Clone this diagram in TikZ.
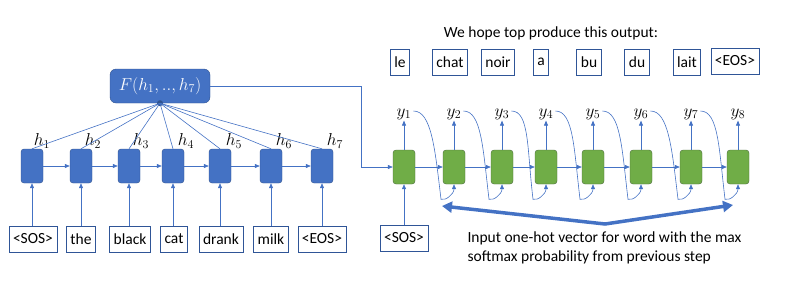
\documentclass[tikz,border=0pt]{standalone}
\usepackage{fontspec}
\setmainfont{Carlito}
\usetikzlibrary{arrows.meta,positioning,calc}

\definecolor{cellblue}{HTML}{4472C4}
\definecolor{celledge}{HTML}{2F528F}
\definecolor{cellgreen}{HTML}{70AD47}
\definecolor{greenedge}{HTML}{4A6B3A}
\definecolor{boxblue}{HTML}{2F5597}

\begin{document}
\begin{tikzpicture}[x=1pt,y=-1pt,font=\fontsize{15.5}{17}\selectfont,
    enc/.style={draw=celledge,fill=cellblue,rounded corners=3pt,minimum width=22pt,minimum height=34pt,inner sep=0pt},
    dec/.style={enc,draw=greenedge,fill=cellgreen},
    word/.style={draw=boxblue,line width=0.8pt,minimum height=26pt,inner xsep=4pt,inner ysep=0pt},
    label/.style={font=\fontsize{17}{19}\selectfont,inner sep=1pt},
    link/.style={draw=cellblue,line width=0.6pt},
    tip/.style={-{Triangle[length=5pt,width=4pt]}}]
  \useasboundingbox (0,0) rectangle (792,293);

  % encoder
  \node[enc] (e1) at (32,166) {};
  \node[enc] (e2) at (81,166) {};
  \node[enc] (e3) at (129,166) {};
  \node[enc] (e4) at (173,166) {};
  \node[enc] (e5) at (220,166) {};
  \node[enc] (e6) at (271,166) {};
  \node[enc] (e7) at (322,166) {};

  \node[word] (w1) at (33,239) {<SOS>};
  \node[word] (w2) at (81,239) {the};
  \node[word] (w3) at (130,239) {black};
  \node[word] (w4) at (174,239) {cat};
  \node[word] (w5) at (221,239) {drank};
  \node[word] (w6) at (271,239) {milk};
  \node[word] (w7) at (322,239) {<EOS>};

  \node[label] (h1) at (42,141) {$h_1$};
  \node[label] (h2) at (93,141) {$h_2$};
  \node[label] (h3) at (141,141) {$h_3$};
  \node[label] (h4) at (186,141) {$h_4$};
  \node[label] (h5) at (234,141) {$h_5$};
  \node[label] (h6) at (284,141) {$h_6$};
  \node[label] (h7) at (335,141) {$h_7$};

  \node[enc,label,rounded corners=6pt,minimum width=100pt,minimum height=34pt,text=white] (F) at (160,86) {$F(h_1,..,h_7)$};
  \fill[celledge] (F.south) circle (3);

  \foreach \i in {1,...,7} {
    \draw[link,tip] (e\i.south |- w\i.north) -- (e\i.south);
    \draw[link] (F.south) -- (e\i.north);
  }
  \foreach \i/\j in {1/2,2/3,3/4,4/5,5/6,6/7}
    \draw[link,tip] (e\i.east) -- (e\j.west);

  % decoder
  \node[dec] (d1) at (404,167) {};
  \node[dec] (d2) at (454,167) {};
  \node[dec] (d3) at (502,167) {};
  \node[dec] (d4) at (546,167) {};
  \node[dec] (d5) at (593,167) {};
  \node[dec] (d6) at (641,167) {};
  \node[dec] (d7) at (691,167) {};
  \node[dec] (d8) at (738,167) {};

  \foreach \i in {1,...,8}
    \node[label] (y\i) at ($(d\i)+(0,-53)$) {$y_\i$};

  \node[word] (sos) at (404,238) {<SOS>};
  \coordinate (bend) at (361,86);
  \draw[link,tip] (F.east) -- (bend) |- (d1.west);
  \draw[link,tip] (sos.north) -- (d1.south);

  \foreach \i in {1,...,8}
    \draw[link,tip] (d\i.north) -- (y\i.south);
  \foreach \i/\j in {1/2,2/3,3/4,4/5,5/6,6/7,7/8} {
    \draw[link,tip] (d\i.east) -- (d\j.west);
    \draw[link,tip] ($(y\i.east)+(1,-3)$) .. controls +(18,0) and +(-6,-50) .. ($(d\j.south)+(-13,15)$)
      .. controls +(4,2) and +(0,10) .. (d\j.south);
  }

  % output words
  \node (goal) at (551,33) {We hope top produce this output:};
  \node[word] (o1) at (400,62) {le};
  \node[word] (o2) at (450,62) {chat};
  \node[word] (o3) at (498,62) {noir};
  \node[word] (o4) at (541,62) {a};
  \node[word] (o5) at (589,62) {bu};
  \node[word] (o6) at (637,62) {du};
  \node[word] (o7) at (687,62) {lait};
  \node[word] (o8) at (735,61) {<EOS>};

  % feedback note
  \coordinate (left) at (442,206);
  \coordinate (mid) at (605,224);
  \coordinate (right) at (733,205);
  \draw[cellblue,line width=3.5pt,{Triangle[length=10pt,width=11pt]}-{Triangle[length=10pt,width=11pt]}] (left) -- (mid) -- (right);
  \node[anchor=west,align=left,font=\fontsize{15.5}{19}\selectfont] (note) at (464,248)
    {Input one-hot vector for word with the max\\softmax probability from previous step};
\end{tikzpicture}
\end{document}
